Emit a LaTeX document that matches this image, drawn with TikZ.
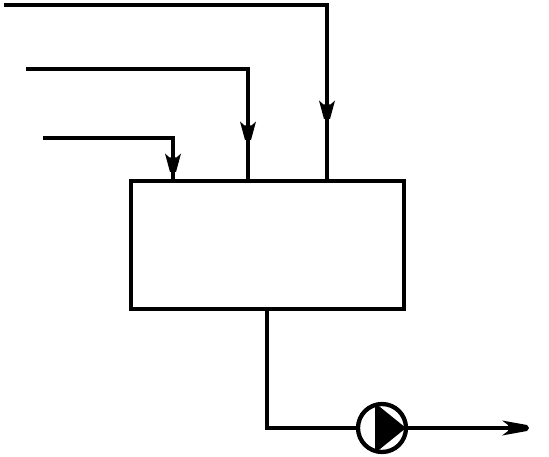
\documentclass[tikz,border=0pt]{standalone}
\usetikzlibrary{calc}
\tikzset{
  flow/.style={line width=4.3pt,line join=miter,black},
  vessel/.style={draw,line width=4.3pt,rectangle,minimum width=273pt,minimum height=128pt,inner sep=0pt,outer sep=0pt},
  pumpbody/.style={draw,line width=4.3pt,circle,minimum size=48pt,inner sep=0pt,outer sep=0pt,fill=white},
  pics/headdown/.style={code={\fill (-3,0) -- (-8,-18.5) -- (-3.5,-14.5) -- (3.5,-14.5) -- (8,-18.5) -- (3,0) -- cycle;}},
  pics/headright/.style={code={\fill (0,-3) -- (-25,-7.5) -- (-19,-3) -- (-19,3) -- (-25,7.5) -- (0,3) -- (2,0) -- cycle;}}
}
\begin{document}
\begin{tikzpicture}[x=1pt,y=-1pt]
\useasboundingbox (0,0) rectangle (549,457);
\node[vessel] (box) at (267.5,245) {};
\node[pumpbody] (pump) at (382,428) {};
\fill (375,403) -- (406,428) -- (375,453) -- cycle;
\coordinate (s1) at (4,5);
\coordinate (s2) at (26,69);
\coordinate (s3) at (43,138);
\coordinate (t1) at (327,119);
\coordinate (t2) at (248,140);
\coordinate (t3) at (173,172);
\coordinate (pin) at (267,428);
\coordinate (out) at (527,428);
\draw[flow] (s1) -| (t1 |- box.north);
\draw[flow] (s2) -| (t2 |- box.north);
\draw[flow] (s3) -| (t3 |- box.north);
\pic at (t1) {headdown};
\pic at (t2) {headdown};
\pic at (t3) {headdown};
\draw[flow] (box.south -| pin) |- (pump.west);
\draw[flow] (pump.east) -- (out);
\pic at (out) {headright};
\end{tikzpicture}
\end{document}
